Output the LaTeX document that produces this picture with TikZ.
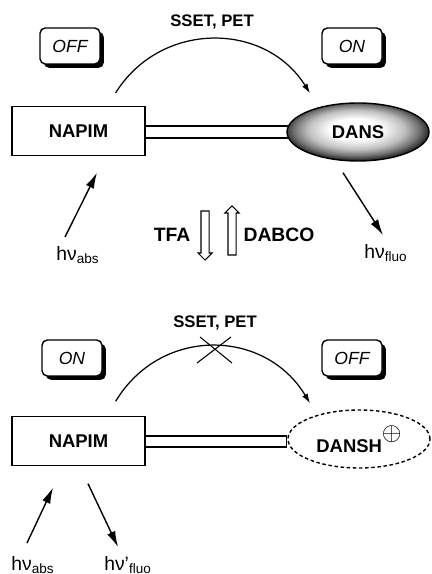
\documentclass[tikz,border=0pt]{standalone}
\usepackage{fontspec}
\setmainfont{Liberation Sans}
\usetikzlibrary{arrows.meta,positioning,calc,shapes.geometric,shapes.arrows,shadows,backgrounds}
\pgfdeclareradialshading{dyeglow}{\pgfpoint{-1bp}{3bp}}{color(0bp)=(white); color(9bp)=(white);
  color(17bp)=(black!25); color(22bp)=(black!55); color(25bp)=(black!80); color(28bp)=(black!90); color(50bp)=(black)}

\begin{document}
\begin{tikzpicture}[x=0.02cm,y=0.02cm,font=\small,
  statebox/.style={draw, line width=0.8pt, rounded corners=3pt, fill=white,
    minimum width=1.2cm, minimum height=0.72cm, font=\fontsize{10}{12}\selectfont\itshape,
    drop shadow={shadow xshift=2.2pt, shadow yshift=-2.2pt, fill=black, opacity=1}},
  unit/.style={draw, line width=0.8pt, minimum width=2.66cm, minimum height=0.98cm,
    font=\fontsize{10.5}{12}\selectfont\bfseries},
  dye/.style={ellipse, draw, line width=0.8pt, minimum width=2.84cm, minimum height=1.16cm,
    inner sep=0pt, font=\fontsize{10.5}{12}\selectfont\bfseries},
  rod/.style={draw, line width=0.8pt, fill=white},
  transfer/.style={line width=0.7pt, -{Latex[length=5.5pt,width=3.5pt]}},
  photon/.style={line width=0.8pt, -{Latex[length=9pt,width=5pt]}},
  hollow/.style={single arrow, draw, line width=0.6pt, minimum height=0.98cm,
    inner xsep=0pt, inner ysep=0.07cm, single arrow head extend=0.06cm},
  tag/.style={font=\fontsize{9.5}{11}\selectfont\bfseries},
  reagent/.style={font=\fontsize{11}{13}\selectfont\bfseries},
  light/.style={font=\fontsize{11}{12}\selectfont}]
  \useasboundingbox (0,0) rectangle (432,574);

  \node[tag] (sset1) at (212,552) {SSET, PET};
  \node[statebox] (off1) at (70,528) {OFF};
  \node[statebox] (on1) at (352,528) {ON};
  \node[unit] (napim1) at (78.5,443) {NAPIM};
  \node[dye, shading=dyeglow] (dans) at (358,442) {DANS};
  \begin{scope}[on background layer]
    \draw[rod] ([shift={(0,5)}]napim1.east) rectangle ([shift={(6,-6)}]dans.west);
  \end{scope}
  \draw[transfer] ([shift={(-30,13)}]napim1.north east) .. controls +(45,72) and +(-45,72) .. ([shift={(-48,9)}]dans.north);
  \node[light] (abs1) at (78,319) {hν\textsubscript{abs}};
  \node[light] (fluo1) at (386,321) {hν\textsubscript{fluo}};
  \draw[photon] ([shift={(-13,18)}]abs1.center) -- ([shift={(18.5,-16.5)}]napim1.south);
  \draw[photon] ([shift={(-15,-11)}]dans.south) -- ([shift={(-3,18)}]fluo1.center);

  \node[reagent] (tfa) at (172,339) {TFA};
  \node[hollow, rotate=-90] (acid) at (205,340.5) {};
  \node[hollow, rotate=90] (base) at (232,341.5) {};
  \node[reagent] (dabco) at (279,339) {DABCO};

  \node[tag] (sset2) at (215,251) {SSET, PET};
  \node[statebox] (on2) at (72,216) {ON};
  \node[statebox] (off2) at (352,216) {OFF};
  \node[unit] (napim2) at (78.5,133) {NAPIM};
  \node[dye, dash pattern=on 2pt off 1.5pt] (dansh) at (359,135) {DANSH\raisebox{1.2ex}{\Large$\oplus$}};
  \draw[rod] ([shift={(0,5)}]napim2.east) rectangle ([shift={(-1,-8)}]dansh.west);
  \draw[transfer] ([shift={(-30,14.5)}]napim2.north east) .. controls +(45,75) and +(-45,75) .. ([shift={(-49,6)}]dansh.north);
  \coordinate (block) at (214,224);
  \draw[line width=0.6pt] (block) +(-17,-13) -- +(17,13) (block) +(-14,13) -- +(18,-13);
  \node[light] (abs2) at (33,9) {hν\textsubscript{abs}};
  \node[light] (fluo2) at (128,9) {hν'\textsubscript{fluo}};
  \draw[photon] ([shift={(-6,22)}]abs2.center) -- ([shift={(-25.5,-21.5)}]napim2.south);
  \draw[photon] ([shift={(9.5,-17.5)}]napim2.south) -- ([shift={(-10,18)}]fluo2.center);
\end{tikzpicture}
\end{document}
